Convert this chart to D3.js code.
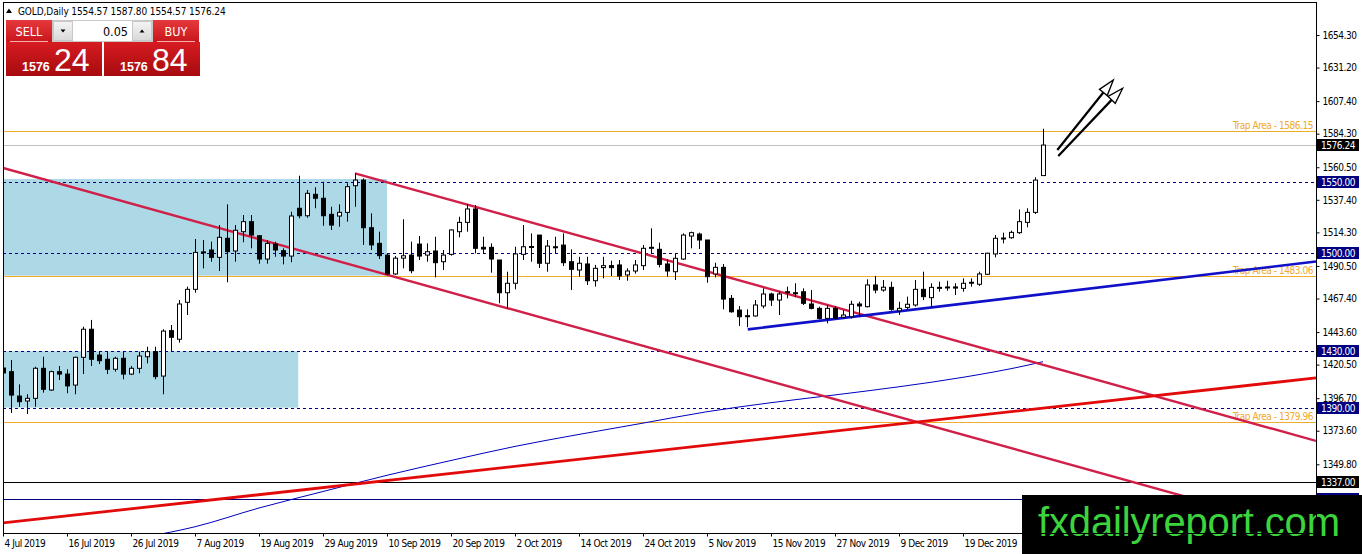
<!DOCTYPE html>
<html>
<head>
<meta charset="utf-8">
<script src="https://cdn.jsdelivr.net/npm/d3@7"></script>
<style>
  body { margin: 0; background: #fff; overflow: hidden; }
  svg { display: block; }
  text { font-family: "DejaVu Sans Condensed", "Liberation Sans Narrow", "Liberation Sans", sans-serif; }
  .small { font-size: 10px; letter-spacing: -0.45px; }
  .title { font-size: 10px; letter-spacing: -0.1px; }
</style>
</head>
<body>
<svg id="svg" width="1362" height="554"></svg>
<script>
// daily bars, [open, high, low, close]
const candles = [
  [1418.1,1423.8,1409.6,1414.6],[1415.5,1423.8,1386.2,1398.9],[1398.2,1406.5,1390.6,1394.2],[1394.7,1399.5,1385.5,1396.6],
  [1396.6,1419.0,1390.6,1417.9],[1417.9,1426.1,1400.6,1403.0],[1402.5,1416.2,1401.9,1415.5],[1415.5,1419.5,1409.6,1413.8],
  [1413.8,1417.2,1400.2,1405.4],[1406.0,1426.1,1399.5,1425.7],[1425.7,1447.4,1413.8,1445.6],[1445.6,1452.2,1419.5,1424.3],
  [1427.3,1429.7,1420.9,1423.3],[1424.3,1429.7,1413.8,1417.2],[1417.2,1426.1,1415.5,1425.0],[1425.0,1429.7,1410.1,1413.8],
  [1413.8,1419.5,1413.1,1417.9],[1417.9,1429.7,1414.4,1426.6],[1426.1,1433.2,1421.4,1429.7],[1429.7,1433.2,1410.1,1412.0],
  [1412.4,1445.6,1399.5,1444.3],[1444.6,1448.6,1429.7,1439.9],[1438.5,1466.3,1436.1,1463.5],[1464.7,1475.8,1455.7,1473.9],
  [1473.9,1509.6,1471.5,1500.1],[1500.1,1508.9,1488.8,1500.5],[1501.8,1507.7,1493.5,1496.6],[1496.6,1519.5,1486.9,1510.8],
  [1510.1,1534.2,1478.9,1500.6],[1501.1,1519.5,1493.5,1515.8],[1514.8,1526.6,1507.3,1521.9],[1521.9,1526.6,1503.0,1512.4],
  [1511.9,1512.4,1492.1,1495.4],[1495.4,1508.9,1492.1,1506.5],[1506.0,1507.7,1497.0,1501.8],[1501.3,1503.0,1491.6,1497.5],
  [1497.5,1528.9,1493.1,1525.9],[1531.4,1554.5,1524.3,1526.1],[1526.1,1544.4,1524.7,1542.0],[1541.3,1546.3,1531.4,1538.5],
  [1538.5,1550.2,1519.0,1526.1],[1527.1,1532.5,1516.0,1519.5],[1525.9,1534.2,1518.3,1528.5],[1528.5,1549.1,1521.9,1546.7],
  [1547.4,1556.2,1532.5,1551.4],[1551.4,1552.6,1505.4,1517.6],[1517.6,1527.8,1501.8,1505.4],[1506.5,1514.8,1495.4,1497.8],
  [1498.2,1499.4,1484.1,1484.8],[1484.8,1497.5,1484.1,1496.0],[1496.0,1523.6,1488.8,1497.7],[1498.2,1507.7,1485.3,1487.1],
  [1506.0,1511.7,1494.7,1497.5],[1498.2,1506.5,1493.5,1500.6],[1501.1,1511.2,1482.4,1492.8],[1493.5,1501.8,1487.6,1498.2],
  [1498.7,1516.5,1497.8,1516.0],[1514.8,1525.4,1510.8,1521.4],[1521.4,1534.4,1514.8,1530.9],[1530.9,1533.7,1499.4,1503.0],
  [1503.7,1511.2,1499.4,1502.5],[1503.7,1506.5,1485.7,1495.4],[1494.7,1494.7,1464.0,1471.5],[1471.5,1486.4,1460.4,1478.2],
  [1478.2,1504.1,1473.9,1499.0],[1498.7,1519.5,1494.7,1504.1],[1504.1,1513.6,1493.5,1504.3],[1512.4,1512.4,1489.0,1492.4],
  [1492.4,1508.9,1486.4,1504.6],[1504.1,1511.2,1499.4,1503.6],[1505.3,1513.6,1490.4,1492.8],[1493.5,1502.3,1473.4,1488.1],
  [1487.6,1497.0,1482.9,1492.4],[1491.9,1497.0,1477.0,1480.0],[1480.0,1491.2,1475.8,1488.8],[1489.3,1497.0,1481.7,1490.7],
  [1490.7,1494.2,1483.4,1489.3],[1491.2,1494.7,1480.5,1483.4],[1484.1,1488.8,1480.0,1486.9],[1486.9,1494.7,1485.0,1491.2],
  [1490.7,1505.3,1487.6,1503.0],[1503.3,1517.2,1499.4,1503.7],[1502.3,1507.0,1489.5,1491.6],[1491.9,1495.2,1482.9,1486.9],
  [1486.4,1499.4,1480.5,1495.9],[1495.4,1513.6,1494.7,1512.4],[1511.7,1514.8,1503.0,1514.1],[1513.1,1514.1,1502.5,1508.9],
  [1508.9,1508.9,1478.6,1482.9],[1484.8,1492.8,1482.4,1489.5],[1489.5,1491.9,1459.7,1467.0],[1467.5,1469.9,1457.3,1458.0],
  [1459.2,1462.1,1447.9,1454.5],[1454.9,1459.7,1447.0,1455.2],[1455.0,1466.3,1454.5,1462.8],[1462.1,1474.6,1460.4,1470.6],
  [1470.6,1471.5,1462.1,1466.3],[1466.3,1472.2,1455.7,1470.6],[1472.2,1475.8,1467.5,1471.5],[1471.5,1478.2,1468.3,1471.3],
  [1472.2,1474.6,1462.8,1464.0],[1463.5,1473.4,1459.7,1460.4],[1460.4,1461.6,1452.6,1453.3],[1453.3,1462.8,1449.8,1460.4],
  [1460.4,1462.1,1452.6,1453.3],[1454.1,1459.2,1453.3,1455.7],[1454.5,1465.8,1453.3,1463.3],[1463.5,1465.1,1454.5,1462.1],
  [1461.6,1481.0,1461.1,1477.0],[1477.0,1483.4,1471.1,1473.4],[1473.4,1480.5,1472.2,1475.4],[1475.3,1479.3,1458.7,1459.7],
  [1458.7,1465.1,1455.7,1460.4],[1461.1,1468.7,1459.7,1463.3],[1462.8,1480.5,1461.6,1473.9],[1473.9,1486.4,1466.3,1468.7],
  [1468.0,1478.2,1461.1,1475.3],[1475.1,1479.3,1472.2,1475.3],[1475.3,1480.0,1472.9,1475.6],[1475.6,1478.2,1469.9,1474.8],
  [1474.6,1481.7,1472.2,1478.2],[1478.2,1481.7,1475.8,1478.9],[1477.5,1486.4,1476.3,1484.8],[1484.6,1499.9,1484.1,1499.5],
  [1499.0,1512.4,1496.6,1510.1],[1510.1,1514.1,1506.5,1510.3],[1510.5,1515.5,1509.8,1514.3],[1514.1,1530.6,1513.1,1521.9],
  [1521.4,1531.4,1517.9,1528.5],[1528.5,1553.4,1527.3,1551.4],[1554.57,1587.80,1554.57,1576.24]
];

// moving average, [bar, value]
const maLine = [
  [18,1298.5],[24,1305.5],[32,1318.8],[40,1330.5],[48,1342.0],[56,1352.5],[64,1362.5],[72,1371.0],
  [80,1379.0],[88,1387.1],[96,1393.5],[104,1399.0],[112,1404.8],[120,1411.5],[128,1420.0],[130,1422.6]
];

const dateIdx = [0, 8, 16, 24, 32, 40, 48, 56, 64, 72, 80, 88, 96, 104, 112, 120];
const dateLabels = ["4 Jul 2019", "16 Jul 2019", "26 Jul 2019", "7 Aug 2019", "19 Aug 2019", "29 Aug 2019",
  "10 Sep 2019", "20 Sep 2019", "2 Oct 2019", "14 Oct 2019", "24 Oct 2019", "5 Nov 2019",
  "15 Nov 2019", "27 Nov 2019", "9 Dec 2019", "19 Dec 2019"];

const priceTicks = [1654.30, 1631.20, 1607.40, 1584.30, 1560.50, 1537.40, 1514.30, 1490.50,
  1467.40, 1443.60, 1420.50, 1396.70, 1373.60, 1349.80];

const trapLevels = [1586.15, 1483.06, 1379.96];
const dashLevels = [1550.00, 1500.00, 1430.00, 1390.00];
const solidLevels = [1337.00, 1325.00];
const lastPrice = 1576.24;

// zones: [bar from, bar to, price low, price high]
const zones = [[-1, 48.0, 1483.6, 1552.2], [-1, 36.9, 1390.0, 1430.0]];

// trend lines: [bar1, price1, bar2, price2]
const channelLines = [[0, 1560.0, 146.5, 1328.9], [44, 1556.2, 164, 1366.6]];
const redLine = [0, 1308.2, 164, 1411.0];
const supportLine = [93.1, 1445.5, 164.1, 1493.6];

// arrows: [bar start, price start, bar tip, price tip]
const arrows = [[131.79, 1572.7, 138.79, 1622.4], [131.91, 1568.5, 139.96, 1616.5]];

const svg = d3.select("svg#svg");
const plot = {left: 3, top: 2, right: 1316, bottom: 533};

const x = d3.scaleLinear().domain([0, 164.125]).range([3, 1316]);
const y = d3.scaleLinear().domain([1349.8, 1654.3]).range([464.3, 35]);

const defs = svg.append("defs");
defs.append("clipPath").attr("id", "clip")
  .append("rect")
  .attr("x", plot.left).attr("y", plot.top)
  .attr("width", plot.right - plot.left).attr("height", plot.bottom - plot.top);

var gradient = function(id, top, bottom) {
  let lg = defs.append("linearGradient").attr("id", id)
    .attr("x1", 0).attr("y1", 0).attr("x2", 0).attr("y2", 1);
  lg.append("stop").attr("offset", "0%").attr("stop-color", top);
  lg.append("stop").attr("offset", "100%").attr("stop-color", bottom);
}
gradient("redTop", "#e6393c", "#c8161b");
gradient("redBig", "#d61c21", "#a70b0e");
gradient("grayBtn", "#f4f4f4", "#d9d9d9");

const g = {
  zones: svg.append("g").attr("clip-path", "url(#clip)"),
  levels: svg.append("g").attr("clip-path", "url(#clip)"),
  lines: svg.append("g").attr("clip-path", "url(#clip)"),
  candles: svg.append("g").attr("clip-path", "url(#clip)"),
  arrows: svg.append("g").attr("clip-path", "url(#clip)"),
  axes: svg.append("g"),
  panel: svg.append("g"),
  mark: svg.append("g")
}

var crisp = v => Math.round(v) + 0.5;

// zones
g.zones.selectAll("rect")
  .data(zones)
  .enter()
  .append("rect")
  .attr("x", d => x(d[0]))
  .attr("width", d => x(d[1]) - x(d[0]))
  .attr("y", d => y(d[3]))
  .attr("height", d => y(d[2]) - y(d[3]))
  .attr("fill", "#add8e6");

// horizontal levels
var hline = function(values, color, dash) {
  g.levels.selectAll(null)
    .data(values)
    .enter()
    .append("line")
    .attr("x1", plot.left).attr("x2", plot.right)
    .attr("y1", d => crisp(y(d))).attr("y2", d => crisp(y(d)))
    .attr("stroke", color)
    .attr("stroke-width", 1)
    .attr("stroke-dasharray", dash);
}
hline(trapLevels, "#f0ad2c", null);
hline([lastPrice], "#c0c0c0", null);
hline(dashLevels, "#000080", "3,3");
hline([solidLevels[0]], "#000000", null);
hline([solidLevels[1]], "#000080", null);

g.levels.selectAll("text.trap")
  .data(trapLevels)
  .enter()
  .append("text")
  .attr("class", "trap small")
  .attr("x", 1313)
  .attr("y", d => y(d) - 2)
  .attr("text-anchor", "end")
  .attr("fill", "#f0a92a")
  .text(d => "Trap Area  - " + d.toFixed(2));

// moving average
g.lines.append("path")
  .datum(maLine)
  .attr("d", d3.line().x(d => x(d[0])).y(d => y(d[1])).curve(d3.curveMonotoneX))
  .attr("fill", "none")
  .attr("stroke", "#0000c0")
  .attr("stroke-width", 1);

// trend lines, extended to the right edge
var ray = function(d) {
  let slope = (d[3] - d[1]) / (d[2] - d[0]);
  let end = 164.125;
  return [[d[0], d[1]], [end, d[1] + slope * (end - d[0])]];
}
var trend = function(d, color, width) {
  let pts = ray(d);
  g.lines.append("line")
    .attr("x1", x(pts[0][0])).attr("y1", y(pts[0][1]))
    .attr("x2", x(pts[1][0])).attr("y2", y(pts[1][1]))
    .attr("stroke", color)
    .attr("stroke-width", width);
}
channelLines.forEach(d => trend(d, "#d01f48", 2.4));
trend(redLine, "#e30a0a", 2.8);
trend(supportLine, "#1010c8", 2.6);

// candles
const bars = g.candles.selectAll("g.bar")
  .data(candles)
  .enter()
  .append("g")
  .attr("class", "bar");

bars.append("line")
  .attr("x1", (d, i) => crisp(x(i))).attr("x2", (d, i) => crisp(x(i)))
  .attr("y1", d => y(d[1])).attr("y2", d => y(d[2]))
  .attr("stroke", "#000")
  .attr("stroke-width", 1);

bars.append("rect")
  .attr("x", (d, i) => crisp(x(i)) - 2)
  .attr("width", 4)
  .attr("y", d => y(Math.max(d[0], d[3])))
  .attr("height", d => Math.max(1, Math.abs(y(d[0]) - y(d[3]))))
  .attr("fill", d => d[3] >= d[0] ? "#fff" : "#000")
  .attr("stroke", "#000")
  .attr("stroke-width", 1);

// arrows
arrows.forEach(function(d) {
  let sx = x(d[0]), sy = y(d[1]), tx = x(d[2]), ty = y(d[3]);
  let len = Math.hypot(tx - sx, ty - sy);
  let ux = (tx - sx) / len, uy = (ty - sy) / len;
  let bx = tx - ux * 16, by = ty - uy * 16;
  g.arrows.append("line")
    .attr("x1", sx).attr("y1", sy).attr("x2", bx).attr("y2", by)
    .attr("stroke", "#000").attr("stroke-width", 2.2);
  g.arrows.append("path")
    .attr("d", "M" + tx + "," + ty + "L" + (bx - uy * 5) + "," + (by + ux * 5) +
      "L" + (bx + uy * 5) + "," + (by - ux * 5) + "Z")
    .attr("fill", "#fff").attr("stroke", "#000").attr("stroke-width", 1.3);
});

// frame
svg.append("rect")
  .attr("x", plot.left + 0.5).attr("y", plot.top + 0.5)
  .attr("width", plot.right - plot.left).attr("height", plot.bottom - plot.top)
  .attr("fill", "none").attr("stroke", "#000");

// price axis
const yAxis = g.axes.append("g")
  .attr("transform", "translate(" + (plot.right + 0.5) + ",0)")
  .call(d3.axisRight(y).tickValues(priceTicks).tickSize(3).tickPadding(3).tickFormat(d3.format(".2f")));
yAxis.select(".domain").remove();
yAxis.selectAll("text").attr("class", "small").attr("font-size", null).attr("font-family", null).attr("fill", "#000");

// price tags
const tags = [[lastPrice, "#000"]].concat(dashLevels.map(v => [v, "#000080"]),
  [[solidLevels[0], "#000"], [solidLevels[1], "#000080"]]);
const tag = g.axes.selectAll("g.tag")
  .data(tags)
  .enter()
  .append("g")
  .attr("class", "tag")
  .attr("transform", d => "translate(" + (plot.right + 1) + "," + Math.round(y(d[0])) + ")");
tag.append("rect")
  .attr("x", 0).attr("y", -6).attr("width", 42).attr("height", 12)
  .attr("fill", d => d[1]);
// the 1325 tag sits under the watermark, only its frame shows
tag.filter(d => d[0] !== solidLevels[1]).append("text")
  .attr("class", "small")
  .attr("x", 4).attr("y", 4)
  .attr("fill", "#fff")
  .text(d => d[0].toFixed(2));

// time axis
const xAxis = g.axes.append("g")
  .attr("transform", "translate(0," + (plot.bottom + 0.5) + ")")
  .call(d3.axisBottom(x).tickValues(dateIdx).tickSize(3).tickPadding(3).tickFormat((d, i) => dateLabels[i]));
xAxis.select(".domain").remove();
xAxis.selectAll("text")
  .attr("class", "small")
  .attr("font-size", null).attr("font-family", null)
  .attr("text-anchor", "start")
  .attr("x", 1)
  .attr("fill", "#000");

// title
g.panel.append("path")
  .attr("d", "M6,13L12,13L9,8.5Z")
  .attr("fill", "#000");
g.panel.append("text")
  .attr("class", "title")
  .attr("x", 18).attr("y", 14.5)
  .attr("fill", "#000")
  .text("GOLD,Daily  1554.57 1587.80 1554.57 1576.24");

// trade panel
const quote = {sell: ["1576", "24"], buy: ["1576", "84"], lot: "0.05"};
var button = function(x0, label) {
  g.panel.append("rect").attr("x", x0).attr("y", 20).attr("width", 46).attr("height", 22)
    .attr("fill", "url(#redTop)");
  g.panel.append("line").attr("x1", x0 + 4).attr("x2", x0 + 42).attr("y1", 41.5).attr("y2", 41.5)
    .attr("stroke", "#f4b0b0").attr("stroke-width", 1);
  g.panel.append("text").attr("x", x0 + 23).attr("y", 36).attr("text-anchor", "middle")
    .attr("font-size", "12.5px").attr("fill", "#fff")
    .text(label);
}
var priceBox = function(x0, parts) {
  g.panel.append("rect").attr("x", x0).attr("y", 42).attr("width", 96).attr("height", 34)
    .attr("fill", "url(#redBig)");
  g.panel.append("text").attr("x", x0 + 16).attr("y", 71).style("font-family", "Liberation Sans, sans-serif")
    .attr("font-size", "12.5px").attr("font-weight", "bold").attr("fill", "#fff").text(parts[0]);
  g.panel.append("text").attr("x", x0 + 48).attr("y", 71).style("font-family", "Liberation Sans, sans-serif")
    .attr("font-size", "32px").attr("fill", "#fff").text(parts[1]);
}
button(6, "SELL");
button(153, "BUY");
priceBox(6, quote.sell);
priceBox(104, quote.buy);

g.panel.append("rect").attr("x", 52.5).attr("y", 20.5).attr("width", 100).attr("height", 21)
  .attr("fill", "#fff").attr("stroke", "#c8c8c8");
g.panel.append("rect").attr("x", 53.5).attr("y", 21.5).attr("width", 19).attr("height", 19)
  .attr("fill", "url(#grayBtn)").attr("stroke", "#c8c8c8");
g.panel.append("rect").attr("x", 132.5).attr("y", 21.5).attr("width", 19).attr("height", 19)
  .attr("fill", "url(#grayBtn)").attr("stroke", "#c8c8c8");
g.panel.append("path").attr("d", "M60.5,29.5L65.5,29.5L63,32.5Z").attr("fill", "#000");
g.panel.append("path").attr("d", "M139.5,32.5L144.5,32.5L142,29.5Z").attr("fill", "#000");
g.panel.append("text").attr("x", 128).attr("y", 36).attr("text-anchor", "end")
  .attr("font-size", "12.5px").attr("fill", "#000")
  .text(quote.lot);

// watermark
g.mark.append("rect").attr("x", 1022).attr("y", 495).attr("width", 340).attr("height", 59).attr("fill", "#000");
g.mark.append("text").attr("x", 1038).attr("y", 536)
  .style("font-family", "Liberation Sans, Arial, sans-serif")
  .attr("font-size", "40px")
  .attr("textLength", 302)
  .attr("fill", "#3cd43c")
  .text("fxdailyreport.com");
</script>
</body>
</html>
